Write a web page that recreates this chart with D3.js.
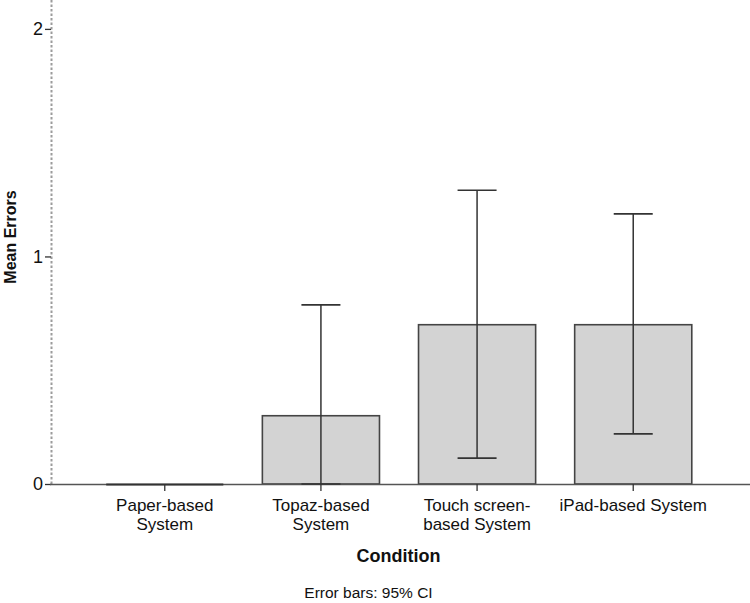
<!DOCTYPE html>
<html><head><meta charset="utf-8">
<script src="https://cdn.jsdelivr.net/npm/d3@7"></script>
<style>body{margin:0;background:#fff}svg{display:block;font-family:"Liberation Sans",Arial,sans-serif}</style>
</head><body>
<svg id="c" width="750" height="603"></svg>
<script>
const categories = [["Paper-based","System"],["Topaz-based","System"],["Touch screen-","based System"],["iPad-based System"]];
const means = [0, 0.30, 0.70, 0.70];
const ciLow = [0, 0, 0.114, 0.22];
const ciHigh = [0, 0.787, 1.291, 1.187];
const yTicks = [0, 1, 2];

const svg = d3.select("#c");
const ids = d3.range(categories.length);
const x = d3.scaleBand().domain(ids).range([50, 748]).paddingInner(0.25).paddingOuter(0.36);
const y = d3.scaleLinear().domain([0, 2.127]).range([484, 0]);

// y axis dashed line
svg.append("line").attr("x1",51.5).attr("x2",51.5).attr("y1",0).attr("y2",y(0))
  .attr("stroke","#9c9c9c").attr("stroke-width",2).attr("stroke-dasharray","2.5,2");
const ya = svg.append("g").attr("transform","translate(51,0)")
  .call(d3.axisLeft(y).tickValues(yTicks).tickFormat(d3.format("d")).tickSize(6).tickPadding(2));
ya.select(".domain").remove();
ya.selectAll(".tick line").attr("stroke","#333").attr("stroke-width",1.3);
ya.selectAll(".tick text").attr("font-size",18).attr("fill","#111").attr("font-family","Liberation Sans, Arial, sans-serif");

// bars
svg.selectAll("rect.bar").data(ids).join("rect").attr("class","bar")
  .attr("x", i=>x(i)).attr("width", x.bandwidth())
  .attr("y", i=>y(means[i])).attr("height", i=>y(0)-y(means[i]))
  .attr("fill","#d3d3d3").attr("stroke","#444").attr("stroke-width",1.6);

// x axis line
svg.append("line").attr("x1",50).attr("x2",750).attr("y1",y(0)+0.5).attr("y2",y(0)+0.5)
  .attr("stroke","#555").attr("stroke-width",1.3);
// zero bar line for paper
svg.selectAll("line.zero").data(ids.filter(i=>means[i]===0)).join("line").attr("class","zero")
  .attr("x1",i=>x(i)).attr("x2",i=>x(i)+x.bandwidth()).attr("y1",y(0)+0.5).attr("y2",y(0)+0.5)
  .attr("stroke","#333").attr("stroke-width",1.8);
// x ticks
svg.selectAll("line.xt").data(ids).join("line").attr("class","xt")
  .attr("x1",i=>x(i)+x.bandwidth()/2).attr("x2",i=>x(i)+x.bandwidth()/2)
  .attr("y1",y(0)).attr("y2",y(0)+7).attr("stroke","#333").attr("stroke-width",1.3);

// error bars
const eb = ids.filter(i=>ciHigh[i]>ciLow[i]);
const cx = i=>x(i)+x.bandwidth()/2;
svg.selectAll("line.ev").data(eb).join("line").attr("class","ev")
  .attr("x1",cx).attr("x2",cx).attr("y1",i=>y(ciLow[i])).attr("y2",i=>y(ciHigh[i]))
  .attr("stroke","#333").attr("stroke-width",1.5);
["hi","lo"].forEach(k=>{
  svg.selectAll("line.cap"+k).data(eb).join("line").attr("class","cap"+k)
    .attr("x1",i=>cx(i)-19.5).attr("x2",i=>cx(i)+19.5)
    .attr("y1",i=>y(k==="hi"?ciHigh[i]:ciLow[i])).attr("y2",i=>y(k==="hi"?ciHigh[i]:ciLow[i]))
    .attr("stroke","#333").attr("stroke-width",1.7);
});

// category labels
const lab = svg.selectAll("text.cat").data(ids).join("text").attr("class","cat")
  .attr("text-anchor","middle").attr("font-size",17).attr("fill","#111");
lab.each(function(i){
  const t = d3.select(this);
  categories[i].forEach((s,j)=>t.append("tspan").attr("x",cx(i)).attr("y",511+j*19).text(s));
});

svg.append("text").attr("x",398.5).attr("y",562).attr("text-anchor","middle")
  .attr("font-size",18).attr("font-weight","bold").attr("fill","#111").text("Condition");
svg.append("text").attr("transform","translate(16,237) rotate(-90)").attr("text-anchor","middle")
  .attr("font-size",16).attr("font-weight","bold").attr("fill","#111").text("Mean Errors");
svg.append("text").attr("x",368.5).attr("y",598).attr("text-anchor","middle")
  .attr("font-size",15.5).attr("fill","#111").text("Error bars: 95% CI");
</script>
</body></html>
